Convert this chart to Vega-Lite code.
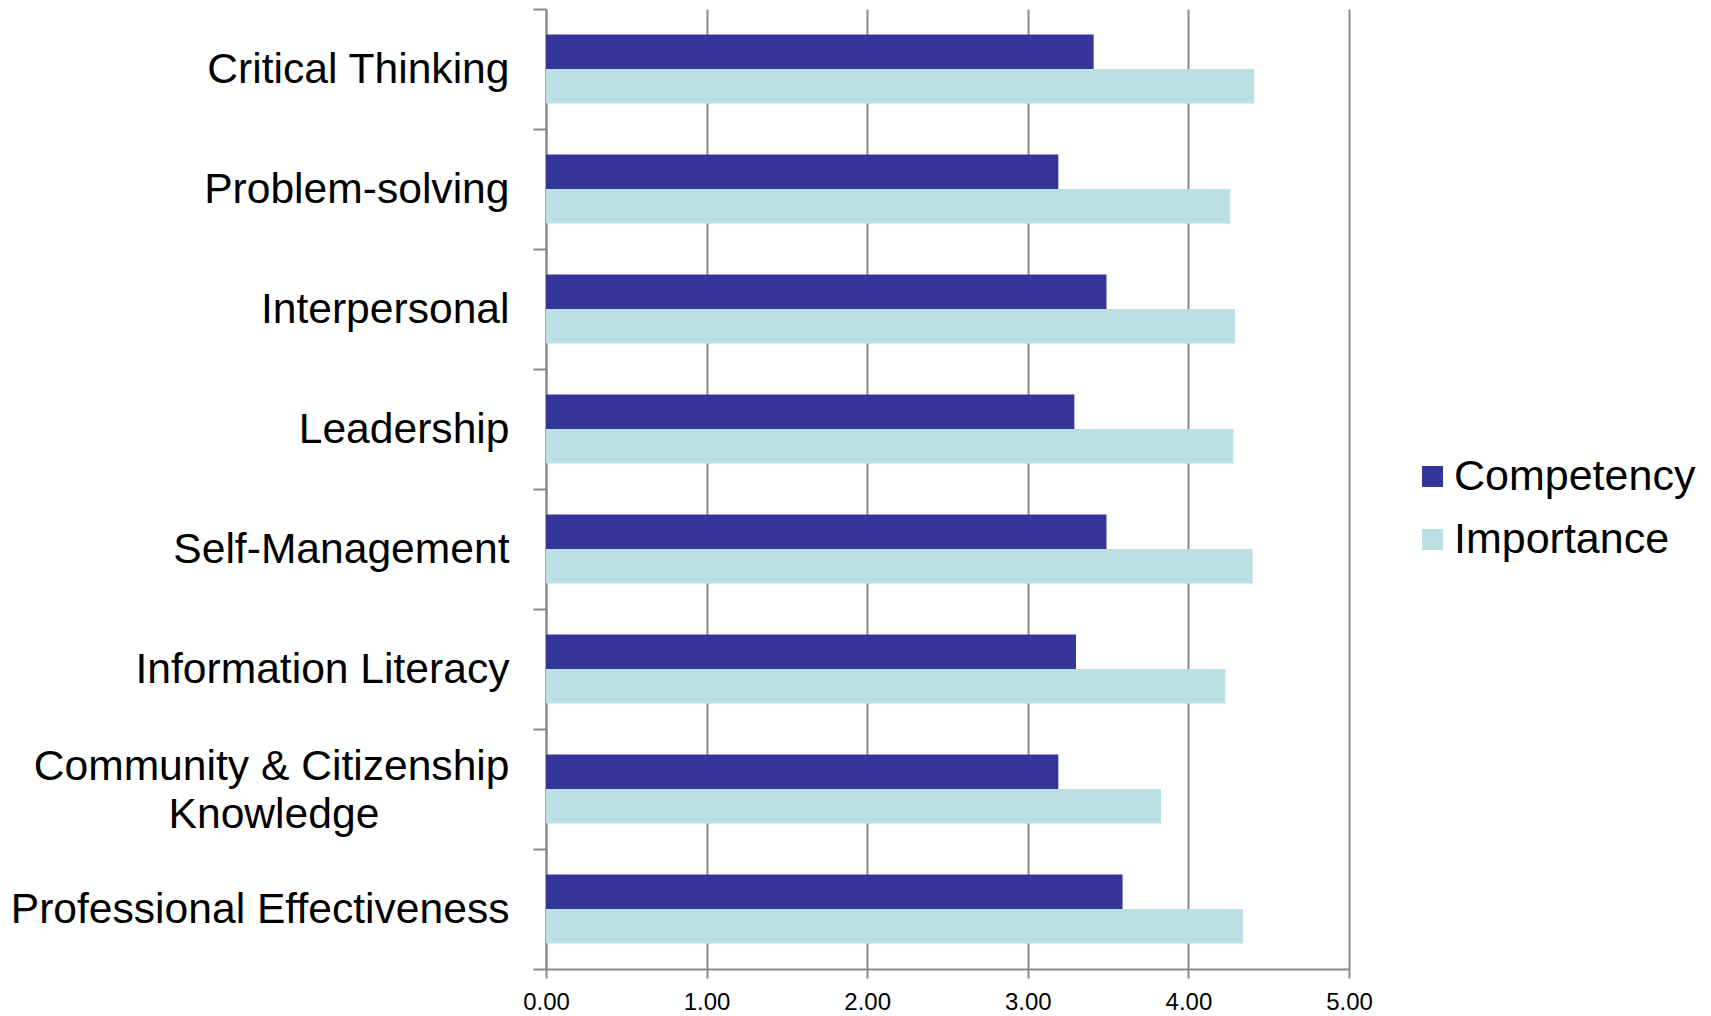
{
  "$schema": "https://vega.github.io/schema/vega-lite/v6.json",
  "autosize": {"type": "none"},
  "width": 803,
  "height": 960,
  "padding": {"left": 546, "top": 9, "right": 362, "bottom": 47},
  "background": "white",
  "config": {
    "font": "Liberation Sans",
    "view": {"stroke": null}
  },
  "data": {
    "values": [
      {"skill": "Critical Thinking", "series": "Competency", "value": 3.41},
      {"skill": "Critical Thinking", "series": "Importance", "value": 4.41},
      {"skill": "Problem-solving", "series": "Competency", "value": 3.19},
      {"skill": "Problem-solving", "series": "Importance", "value": 4.26},
      {"skill": "Interpersonal", "series": "Competency", "value": 3.49},
      {"skill": "Interpersonal", "series": "Importance", "value": 4.29},
      {"skill": "Leadership", "series": "Competency", "value": 3.29},
      {"skill": "Leadership", "series": "Importance", "value": 4.28},
      {"skill": "Self-Management", "series": "Competency", "value": 3.49},
      {"skill": "Self-Management", "series": "Importance", "value": 4.40},
      {"skill": "Information Literacy", "series": "Competency", "value": 3.30},
      {"skill": "Information Literacy", "series": "Importance", "value": 4.23},
      {"skill": "Community & Citizenship Knowledge", "series": "Competency", "value": 3.19},
      {"skill": "Community & Citizenship Knowledge", "series": "Importance", "value": 3.83},
      {"skill": "Professional Effectiveness", "series": "Competency", "value": 3.59},
      {"skill": "Professional Effectiveness", "series": "Importance", "value": 4.34}
    ]
  },
  "mark": {"type": "bar"},
  "encoding": {
    "y": {
      "field": "skill",
      "type": "nominal",
      "sort": null,
      "scale": {"paddingInner": 0, "paddingOuter": 0},
      "axis": {
        "title": null,
        "domain": true,
        "domainColor": "#8a8a8a",
        "domainWidth": 2,
        "ticks": true,
        "tickBand": "extent",
        "tickSize": 13,
        "tickColor": "#8a8a8a",
        "tickWidth": 2,
        "grid": false,
        "labelFont": "Liberation Sans",
        "labelFontSize": 42.6,
        "labelColor": "#000000",
        "labelPadding": 24,
        "labelLimit": 0,
        "labelLineHeight": 48,
        "labelAlign": "right",
        "labelOffset": {"condition": {"test": "datum.value == 'Community & Citizenship Knowledge'", "value": -23}, "value": 0},
        "labelExpr": "datum.value == 'Community & Citizenship Knowledge' ? ['Community & Citizenship', 'Knowledge\u00a0\u00a0\u00a0\u00a0\u00a0\u00a0\u00a0\u00a0\u00a0\u00a0\u00a0\u200b'] : datum.value"
      }
    },
    "yOffset": {
      "field": "series",
      "type": "nominal",
      "sort": ["Competency", "Importance"],
      "scale": {"paddingInner": 0, "paddingOuter": 0.745}
    },
    "x": {
      "field": "value",
      "type": "quantitative",
      "scale": {"domain": [0, 5], "nice": false},
      "axis": {
        "title": null,
        "values": [0, 1, 2, 3, 4, 5],
        "format": ".2f",
        "grid": true,
        "gridColor": "#8a8a8a",
        "gridWidth": 2,
        "domain": true,
        "domainColor": "#8a8a8a",
        "domainWidth": 2,
        "ticks": true,
        "tickSize": 9,
        "tickColor": "#8a8a8a",
        "tickWidth": 2,
        "labelFont": "Liberation Sans",
        "labelFontSize": 24,
        "labelColor": "#000000",
        "labelPadding": 12,
        "labelFlush": false
      }
    },
    "color": {
      "field": "series",
      "type": "nominal",
      "scale": {"domain": ["Competency", "Importance"], "range": ["#36369A", "#BAE0E3"]},
      "legend": {
        "title": null,
        "orient": "none",
        "legendX": 865,
        "legendY": 446,
        "symbolType": "square",
        "symbolSize": 441,
        "symbolStrokeWidth": 0,
        "labelFont": "Liberation Sans",
        "labelFontSize": 43,
        "labelColor": "#000000",
        "labelOffset": 0,
        "rowPadding": 19,
        "labelLimit": 0
      }
    }
  }
}
